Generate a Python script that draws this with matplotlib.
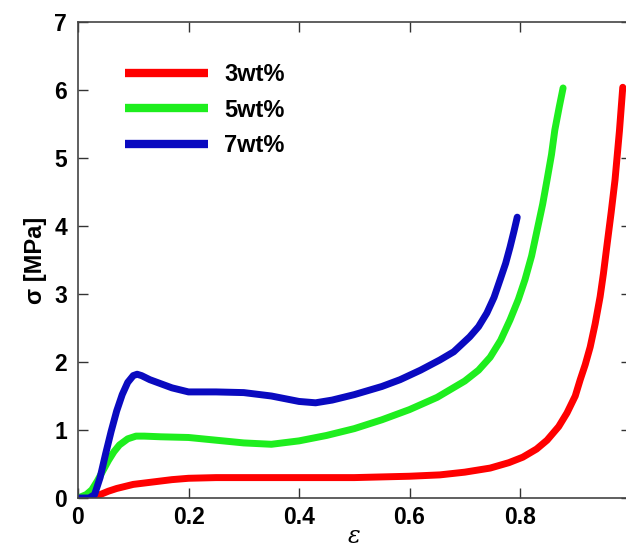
import matplotlib
matplotlib.use("Agg")
import matplotlib.pyplot as plt

plt.rcParams['font.family'] = ['Liberation Sans', 'DejaVu Sans']
plt.rcParams['font.weight'] = 'bold'

labels = ['3wt%', '5wt%', '7wt%']
colors = ['#FF0000', '#1EEE1E', '#0A0AC0']

x_3 = [0.0, 0.027, 0.04, 0.055, 0.07, 0.085, 0.10, 0.12, 0.14, 0.17, 0.20, 0.25, 0.30,
       0.35, 0.40, 0.45, 0.50, 0.55, 0.60, 0.655, 0.70, 0.746, 0.78, 0.805, 0.83, 0.849,
       0.87, 0.885, 0.90, 0.909, 0.918, 0.927, 0.936, 0.945, 0.951, 0.957, 0.965,
       0.972, 0.98, 0.986]
y_3 = [0.0, 0.0, 0.05, 0.10, 0.14, 0.17, 0.20, 0.22, 0.24, 0.27, 0.29, 0.30, 0.30,
       0.30, 0.30, 0.30, 0.30, 0.31, 0.32, 0.34, 0.38, 0.44, 0.52, 0.60, 0.72, 0.85,
       1.05, 1.25, 1.50, 1.74, 1.96, 2.22, 2.56, 2.96, 3.30, 3.69, 4.20,
       4.68, 5.40, 6.04]

x_5 = [0.0, 0.015, 0.025, 0.035, 0.045, 0.055, 0.065, 0.075, 0.09, 0.105, 0.12, 0.15,
       0.20, 0.25, 0.30, 0.35, 0.40, 0.45, 0.50, 0.55, 0.60, 0.65, 0.70, 0.725, 0.746,
       0.765, 0.782, 0.797, 0.809, 0.821, 0.831, 0.841, 0.849, 0.857, 0.863, 0.871, 0.878]
y_5 = [0.0, 0.05, 0.12, 0.25, 0.40, 0.55, 0.68, 0.78, 0.87, 0.91, 0.91, 0.90,
       0.89, 0.85, 0.81, 0.79, 0.84, 0.92, 1.02, 1.15, 1.30, 1.48, 1.72, 1.88, 2.07,
       2.32, 2.62, 2.92, 3.21, 3.56, 3.94, 4.32, 4.68, 5.05, 5.41, 5.75, 6.03]

x_7 = [0.0, 0.02, 0.03, 0.04, 0.05, 0.06, 0.07, 0.08, 0.09, 0.10, 0.107, 0.115, 0.13,
       0.15, 0.17, 0.20, 0.25, 0.30, 0.35, 0.40, 0.43, 0.46, 0.50, 0.55, 0.583, 0.62,
       0.655, 0.68, 0.709, 0.725, 0.74, 0.753, 0.764, 0.774, 0.782, 0.789, 0.795]
y_7 = [0.0, 0.0, 0.05, 0.30, 0.65, 0.98, 1.28, 1.52, 1.70, 1.80, 1.82, 1.80, 1.74,
       1.68, 1.62, 1.56, 1.56, 1.55, 1.50, 1.42, 1.40, 1.44, 1.52, 1.64, 1.74, 1.88,
       2.03, 2.15, 2.37, 2.52, 2.72, 2.95, 3.21, 3.45, 3.69, 3.92, 4.13]

x_ticks = [0, 0.2, 0.4, 0.6, 0.8, 1.0]
x_tick_labels = ['0', '0.2', '0.4', '0.6', '0.8', '1']
y_ticks = [0, 1, 2, 3, 4, 5, 6, 7]

fig = plt.figure(figsize=(6.26, 5.49), dpi=100)
ax = fig.add_axes([78 / 626, 51 / 549, 552.5 / 626, 476 / 549])

for xs, ys, c, lab in zip([x_3, x_5, x_7], [y_3, y_5, y_7], colors, labels):
    ax.plot(xs, ys, color=c, lw=5, label=lab, solid_capstyle='round',
            solid_joinstyle='round')

ax.set_xlim(0, 1.0)
ax.set_ylim(0, 7)
ax.set_xticks(x_ticks)
ax.set_xticklabels(x_tick_labels)
ax.set_yticks(y_ticks)

ax.tick_params(direction='in', length=7, width=1, color='#333333',
               top=True, right=True, labelsize=16.5, pad=8)
ax.tick_params(axis='x', pad=6)
for lab in ax.get_xticklabels() + ax.get_yticklabels():
    lab.set_fontweight('bold')
for sp in ax.spines.values():
    sp.set_color('#444444')
    sp.set_linewidth(1.2)

ax.set_ylabel('σ [MPa]', fontsize=17, fontweight='bold', labelpad=5)
ax.set_xlabel('ε', fontsize=17, fontweight='normal', labelpad=-3,
              family=['DejaVu Serif'], style='italic')

leg = ax.legend(loc='upper left', bbox_to_anchor=(0.085, 0.913), frameon=False,
                fontsize=17, handlelength=3.5, handletextpad=0.7,
                labelspacing=0.52, borderpad=0, borderaxespad=0)
for line in leg.get_lines():
    line.set_linewidth(6)
    line.set_solid_capstyle('butt')
for t in leg.get_texts():
    t.set_fontweight('bold')

fig.savefig('out.png', dpi=100)
